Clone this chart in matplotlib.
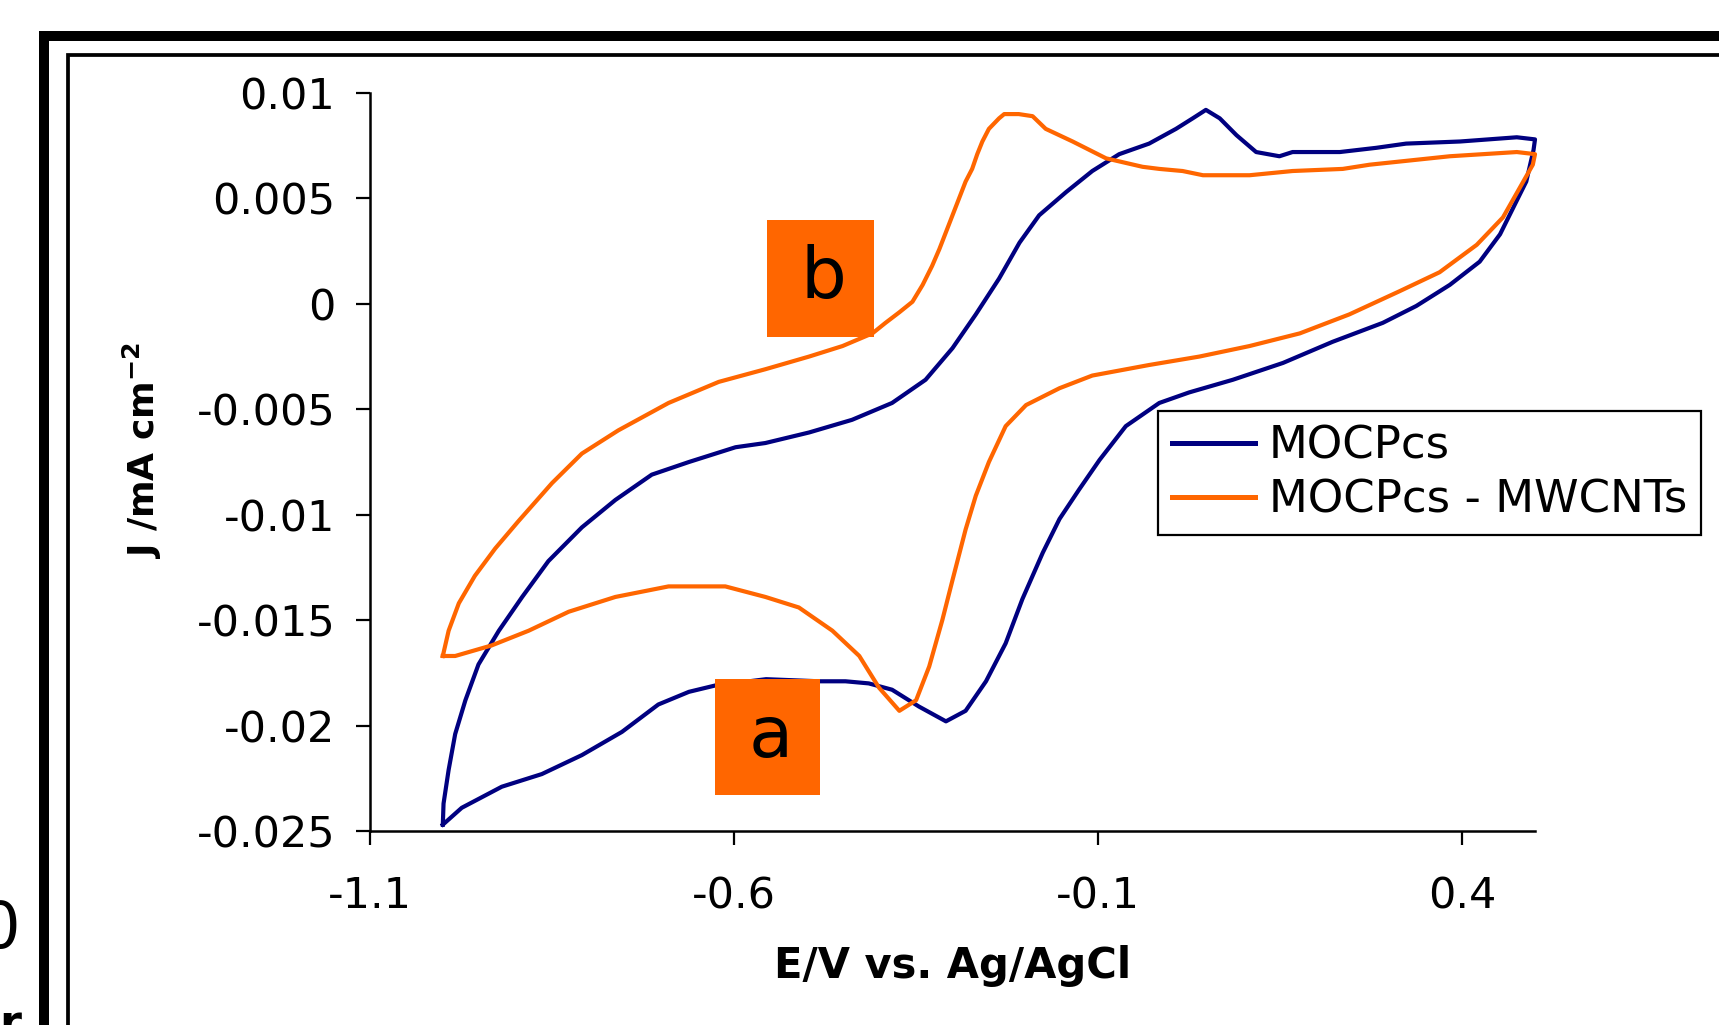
import matplotlib
matplotlib.use("Agg")
import matplotlib.pyplot as plt
from matplotlib.patches import Rectangle

# --- datos (E en V, J en mA cm^-2) ---
mocpcs_E = [-1.000, -0.974, -0.919, -0.864, -0.809, -0.754, -0.704, -0.662, -0.626, -0.556,
            -0.483, -0.447, -0.415, -0.383, -0.346, -0.309, -0.282, -0.254, -0.227, -0.204,
            -0.176, -0.153, -0.126, -0.098, -0.062, -0.016, 0.025, 0.085, 0.154, 0.222,
            0.291, 0.337, 0.383, 0.424, 0.452, 0.475, 0.488, 0.498, 0.500, 0.475,
            0.397, 0.323, 0.282, 0.232, 0.167, 0.149, 0.117, 0.090, 0.067, 0.048,
            0.030, 0.007, -0.030, -0.071, -0.108, -0.144, -0.181, -0.208, -0.236, -0.268,
            -0.300, -0.337, -0.383, -0.438, -0.497, -0.557, -0.598, -0.662, -0.713, -0.763,
            -0.809, -0.855, -0.891, -0.923, -0.951, -0.969, -0.983, -0.992, -0.999, -1.000]
mocpcs_J = [-0.0247, -0.0239, -0.0229, -0.0223, -0.0214, -0.0203, -0.0190, -0.0184, -0.0181, -0.0178,
            -0.0179, -0.0179, -0.0180, -0.0183, -0.0191, -0.0198, -0.0193, -0.0179, -0.0161, -0.0140,
            -0.0118, -0.0102, -0.0088, -0.0074, -0.0058, -0.0047, -0.0042, -0.0036, -0.0028, -0.0018,
            -0.0009, -0.0001, 0.0009, 0.0020, 0.0033, 0.0049, 0.0058, 0.0073, 0.0078, 0.0079,
            0.0077, 0.0076, 0.0074, 0.0072, 0.0072, 0.0070, 0.0072, 0.0080, 0.0088, 0.0092,
            0.0088, 0.0083, 0.0076, 0.0071, 0.0063, 0.0053, 0.0042, 0.0029, 0.0012, -0.0005,
            -0.0021, -0.0036, -0.0047, -0.0055, -0.0061, -0.0066, -0.0068, -0.0075, -0.0081, -0.0093,
            -0.0106, -0.0122, -0.0139, -0.0155, -0.0171, -0.0188, -0.0204, -0.0221, -0.0237, -0.0247]

mwcnt_E = [-1.000, -0.983, -0.933, -0.882, -0.827, -0.763, -0.690, -0.612, -0.557, -0.511,
           -0.465, -0.428, -0.401, -0.373, -0.350, -0.332, -0.314, -0.300, -0.282, -0.268,
           -0.250, -0.227, -0.199, -0.153, -0.108, -0.030, 0.039, 0.108, 0.177, 0.245,
           0.314, 0.369, 0.420, 0.456, 0.479, 0.497, 0.500, 0.475, 0.383, 0.328,
           0.273, 0.236, 0.167, 0.108, 0.044, 0.016, -0.016, -0.039, -0.089, -0.135,
           -0.172, -0.190, -0.209, -0.229, -0.236, -0.250, -0.259, -0.266, -0.273, -0.282,
           -0.291, -0.300, -0.309, -0.318, -0.328, -0.341, -0.355, -0.373, -0.392, -0.410,
           -0.451, -0.497, -0.557, -0.621, -0.690, -0.759, -0.809, -0.850, -0.896, -0.928,
           -0.956, -0.978, -0.992, -1.000]
mwcnt_J = [-0.0167, -0.0167, -0.0162, -0.0155, -0.0146, -0.0139, -0.0134, -0.0134, -0.0139, -0.0144,
           -0.0155, -0.0167, -0.0182, -0.0193, -0.0188, -0.0172, -0.0150, -0.0131, -0.0107, -0.0091,
           -0.0075, -0.0058, -0.0048, -0.0040, -0.0034, -0.0029, -0.0025, -0.0020, -0.0014, -0.0005,
           0.0006, 0.0015, 0.0028, 0.0041, 0.0055, 0.0066, 0.0071, 0.0072, 0.0070, 0.0068,
           0.0066, 0.0064, 0.0063, 0.0061, 0.0061, 0.0063, 0.0064, 0.0065, 0.0069, 0.0077,
           0.0083, 0.0089, 0.0090, 0.0090, 0.0088, 0.0083, 0.0077, 0.0071, 0.0064, 0.0058,
           0.0050, 0.0042, 0.0034, 0.0026, 0.0018, 0.0009, 0.0001, -0.0004, -0.0009, -0.0014,
           -0.0020, -0.0025, -0.0031, -0.0037, -0.0047, -0.0060, -0.0071, -0.0085, -0.0103, -0.0116,
           -0.0129, -0.0142, -0.0155, -0.0167]

series_names = ["MOCPcs", "MOCPcs - MWCNTs"]
x_ticks = [-1.1, -0.6, -0.1, 0.4]
x_labels = ["-1.1", "-0.6", "-0.1", "0.4"]
y_ticks = [0.01, 0.005, 0, -0.005, -0.01, -0.015, -0.02, -0.025]
y_labels = ["0.01", "0.005", "0", "-0.005", "-0.01", "-0.015", "-0.02", "-0.025"]

AZUL = "#000080"
NARANJA = "#FF6600"
W, H = 1719, 1025


def fx(px):
    return px / W


def fy(py):
    return 1 - py / H


fig = plt.figure(figsize=(W / 100, H / 100), dpi=100)
ax = fig.add_axes([fx(370), fy(831), 1165 / W, 738 / H])

ax.plot(mocpcs_E, mocpcs_J, color=AZUL, lw=3.0, label=series_names[0], clip_on=False, zorder=3)
ax.plot(mwcnt_E, mwcnt_J, color=NARANJA, lw=3.0, label=series_names[1], clip_on=False, zorder=3)

ax.set_xlim(-1.1, 0.5)
ax.set_ylim(-0.025, 0.01)
ax.set_xticks(x_ticks)
ax.set_xticklabels(x_labels)
ax.set_yticks(y_ticks)
ax.set_yticklabels(y_labels)

for s in ["top", "right"]:
    ax.spines[s].set_visible(False)
for s in ["left", "bottom"]:
    ax.spines[s].set_linewidth(1.8)

ax.tick_params(direction="out", length=10, width=1.6, labelsize=31)
ax.tick_params(axis="x", pad=22)
ax.tick_params(axis="y", pad=15)

ax.set_xlabel("E/V vs. Ag/AgCl", fontsize=30, fontweight="bold")
ax.xaxis.set_label_coords(0.5, -0.155)
ax.set_ylabel(r"J /mA cm$^{\mathbf{-2}}$", fontsize=26, fontweight="bold")
ax.yaxis.set_label_coords(-0.177, 0.516)

leg = ax.legend(loc="upper left", bbox_to_anchor=(fx(1158), fy(411)),
                bbox_transform=fig.transFigure, fontsize=32.5, frameon=True,
                fancybox=False, framealpha=1, edgecolor="black", borderaxespad=0,
                borderpad=0.3, handlelength=1.85, handletextpad=0.3, labelspacing=0.25)
leg.get_frame().set_linewidth(1.6)
for ln in leg.get_lines():
    ln.set_linewidth(3.6)

# recuadros naranjas "a" y "b"
for (x0, y0, x1, y1, letra) in [(767, 220, 874, 337, "b"), (715, 679, 820, 795, "a")]:
    fig.add_artist(Rectangle((fx(x0), fy(y1)), (x1 - x0) / W, (y1 - y0) / H,
                             transform=fig.transFigure, facecolor=NARANJA,
                             edgecolor="none", zorder=5))
    fig.text(fx((x0 + x1) / 2 + 3), fy((y0 + y1) / 2), letra, fontsize=52,
             ha="center", va="center", zorder=6)

# marcos de la figura
fig.add_artist(Rectangle((fx(44.3), -0.2), 1.5, fy(35.8) + 0.2, transform=fig.transFigure,
                         fill=False, edgecolor="black", lw=7.2, zorder=1))
fig.add_artist(Rectangle((fx(67.8), -0.2), 1.5, fy(55.3) + 0.2, transform=fig.transFigure,
                         fill=False, edgecolor="black", lw=2.7, zorder=1))

# restos de la figura vecina en el borde izquierdo (cortados como en el original)
fig.text(fx(20), fy(930), "0", fontsize=46, ha="right", va="center")
fig.text(fx(21), fy(1003), "r", fontsize=32, fontweight="bold", ha="right", va="top")

fig.savefig("out.png", dpi=100)
